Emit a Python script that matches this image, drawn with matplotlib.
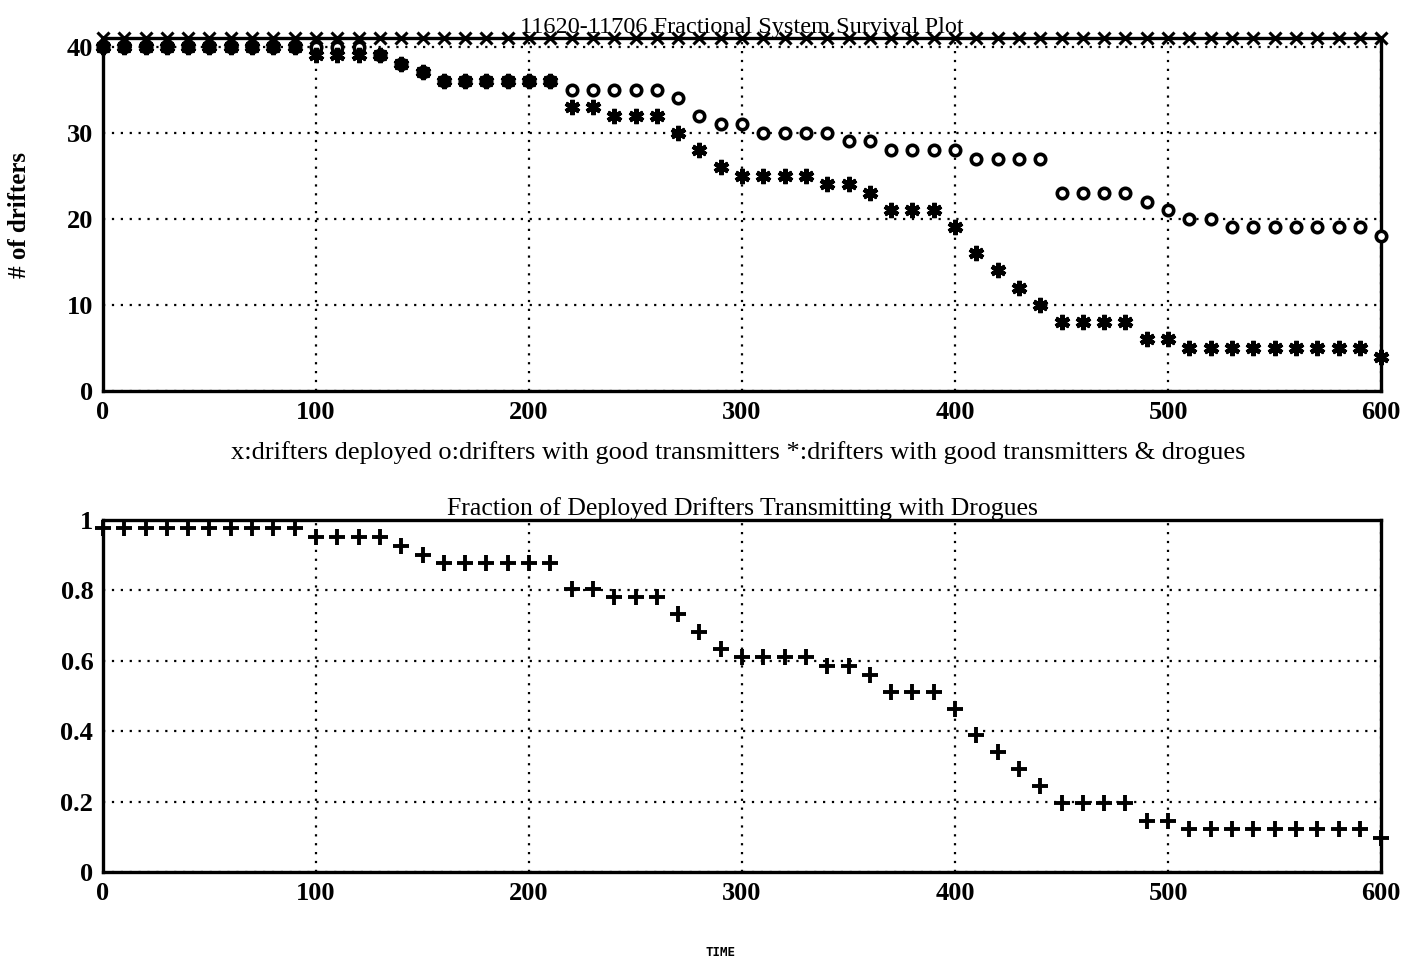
"""Drifter survival plot: counts of drifters and fraction with drogues over time"""

import matplotlib
matplotlib.use("Agg")
import matplotlib.pyplot as plt

# time axis (every 10 units, 0..600)
time = list(range(0, 610, 10))

# x: drifters deployed
deployed = [41] * 61

# o: drifters with good transmitters
good_tx = ([40] * 10 + [40, 40, 40, 39, 38, 37] + [36] * 6 + [35] * 5
           + [34, 32, 31, 31] + [30] * 4 + [29, 29] + [28] * 4 + [27] * 4
           + [23] * 4 + [22, 21, 20, 20] + [19] * 7 + [18])

# *: drifters with good transmitters & drogues
good_drogue = ([40] * 10 + [39] * 4 + [38, 37] + [36] * 6 + [33, 33, 32, 32, 32]
               + [30, 28, 26] + [25] * 4 + [24, 24, 23] + [21] * 3
               + [19, 16, 14, 12, 10] + [8] * 4 + [6, 6] + [5] * 9 + [4])

# fraction of deployed drifters transmitting with drogues
fraction = ([0.976] * 10 + [0.951] * 4 + [0.927, 0.902] + [0.878] * 6
            + [0.805, 0.805, 0.780, 0.780, 0.780, 0.732, 0.683, 0.634]
            + [0.610] * 4 + [0.585, 0.585, 0.561] + [0.512] * 3
            + [0.463, 0.390, 0.341, 0.293, 0.244] + [0.195] * 4
            + [0.146, 0.146] + [0.122] * 9 + [0.098])

plt.rcParams["font.family"] = ["Liberation Serif", "DejaVu Serif"]

fig = plt.figure(figsize=(14.05, 9.63), dpi=100)
ax1 = fig.add_axes([0.0733, 0.594, 0.9097, 0.3665])
ax2 = fig.add_axes([0.0733, 0.0945, 0.9097, 0.3655])

grid_style = dict(color="black", linestyle=(0, (1, 3)), linewidth=1.6)

ax1.plot(time, deployed, linestyle="none", marker="x", color="black",
         markersize=9, markeredgewidth=2.2, clip_on=False, zorder=4)
ax1.plot(time, good_tx, linestyle="none", marker="o", markerfacecolor="white",
         markeredgecolor="black", markersize=7.5, markeredgewidth=2.6,
         clip_on=False, zorder=3)
ax1.plot(time, good_drogue, linestyle="none", marker=(6, 2, 0), color="black",
         markersize=11, markeredgewidth=3.2, clip_on=False, zorder=5)
ax1.set_xlim(0, 600)
ax1.set_ylim(0, 41)
ax1.set_xticks([0, 100, 200, 300, 400, 500, 600])
ax1.set_yticks([0, 10, 20, 30, 40])
ax1.grid(True, **grid_style)
ax1.set_title("11620-11706 Fractional System Survival Plot", fontsize=17.5, pad=1)

ax2.plot(time, fraction, linestyle="none", marker="+", color="black",
         markersize=11, markeredgewidth=2.8, clip_on=False, zorder=3)
ax2.set_xlim(0, 600)
ax2.set_ylim(0, 1)
ax2.set_xticks([0, 100, 200, 300, 400, 500, 600])
ax2.set_yticks([0, 0.2, 0.4, 0.6, 0.8, 1])
ax2.set_yticklabels(["0", "0.2", "0.4", "0.6", "0.8", "1"])
ax2.grid(True, **grid_style)
ax2.set_title("Fraction of Deployed Drifters Transmitting with Drogues",
              fontsize=18.5, pad=2)

for ax in (ax1, ax2):
    ax.set_axisbelow(True)
    for spine in ax.spines.values():
        spine.set_linewidth(2.4)
    ax.tick_params(length=0, pad=7, labelsize=19)
    for lab in ax.get_xticklabels() + ax.get_yticklabels():
        lab.set_fontweight("bold")

fig.text(738 / 1405, 1 - 453 / 963,
         "x:drifters deployed o:drifters with good transmitters "
         "*:drifters with good transmitters & drogues",
         ha="center", va="center", fontsize=19)
fig.text(20 / 1405, 1 - 215 / 963, "# of drifters", rotation=90,
         ha="center", va="center", fontsize=18, fontweight="bold")
fig.text(720 / 1405, 1 - 952 / 963, "TIME", ha="center", va="center",
         fontsize=9, fontweight="bold", family="DejaVu Sans Mono")

fig.savefig("out.png", dpi=100)
